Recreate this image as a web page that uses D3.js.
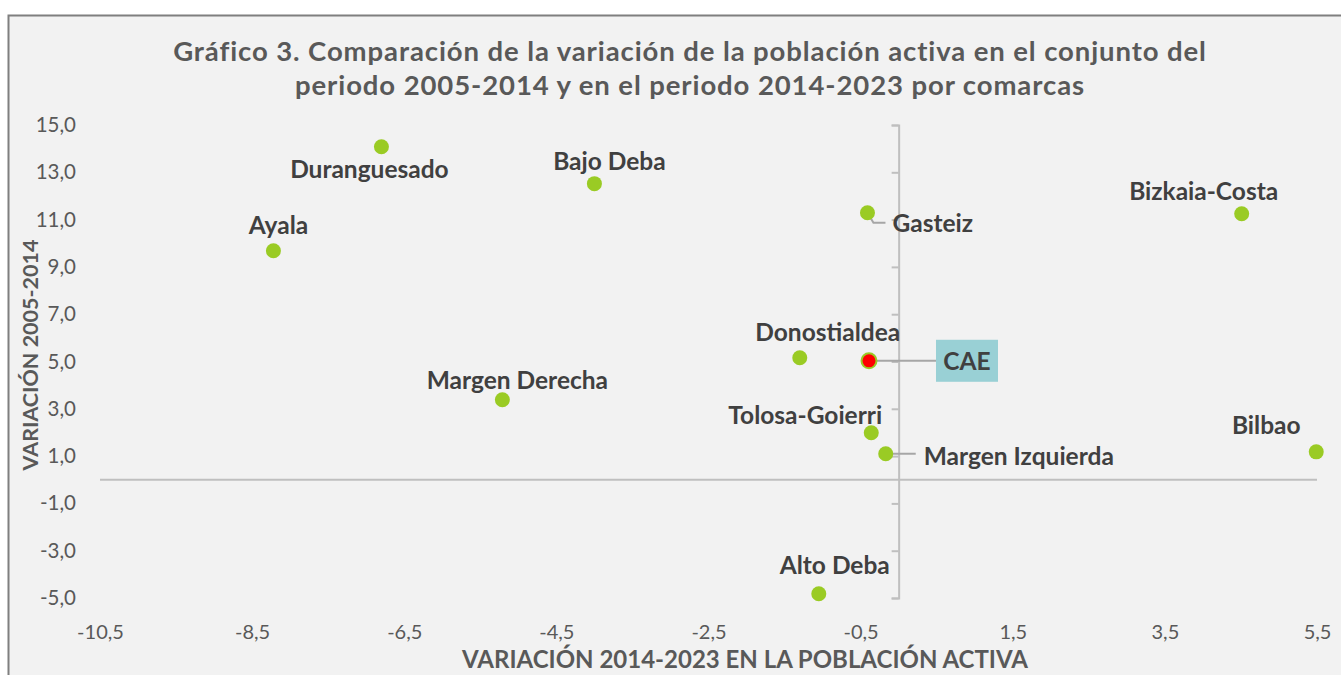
<!DOCTYPE html>
<html>
<head>
<meta charset="utf-8">
<script src="https://cdn.jsdelivr.net/npm/d3@7"></script>
<style>
  body { margin: 0; background: #fff; }
  text { font-family: Lato, "Open Sans", sans-serif; }
</style>
</head>
<body>
<svg id="chart"></svg>
<script>
// data
const comarcas = ['Duranguesado', 'Bajo Deba', 'Ayala', 'Gasteiz', 'Bizkaia-Costa', 'Donostialdea',
  'CAE', 'Margen Derecha', 'Tolosa-Goierri', 'Margen Izquierda', 'Bilbao', 'Alto Deba'];
const var1423 = [-6.80, -4.00, -8.22, -0.41, 4.51, -1.30, -0.39, -5.21, -0.36, -0.17, 5.49, -1.05];
const var0514 = [14.08, 12.52, 9.68, 11.29, 11.25, 5.16, 5.03, 3.38, 1.99, 1.10, 1.18, -4.82];
const xTicks = [-10.5, -8.5, -6.5, -4.5, -2.5, -0.5, 1.5, 3.5, 5.5];
const yTicks = [15, 13, 11, 9, 7, 5, 3, 1, -1, -3, -5];
const titleLines = ['Gráfico 3. Comparación de la variación de la población activa en el conjunto del',
  'periodo 2005-2014 y en el periodo 2014-2023 por comarcas'];

// label placement (dx, dy from the dot; anchor; leader line or not)
const labelPos = {
  'Duranguesado': { dx: -12, dy: 22, anchor: 'middle' },
  'Bajo Deba': { dx: 15, dy: -23, anchor: 'middle' },
  'Ayala': { dx: 5, dy: -26, anchor: 'middle' },
  'Gasteiz': { dx: 25, dy: 10, anchor: 'start', leader: true },
  'Bizkaia-Costa': { dx: -38, dy: -23, anchor: 'middle' },
  'Donostialdea': { dx: 28, dy: -26, anchor: 'middle' },
  'CAE': { dx: 98, dy: 0, anchor: 'middle', leader: true, box: true },
  'Margen Derecha': { dx: 15, dy: -20, anchor: 'middle' },
  'Tolosa-Goierri': { dx: -66, dy: -18, anchor: 'middle' },
  'Margen Izquierda': { dx: 38, dy: 2, anchor: 'start', leader: true },
  'Bilbao': { dx: -50, dy: -27, anchor: 'middle' },
  'Alto Deba': { dx: 16, dy: -29, anchor: 'middle' }
};

const W = 1341;
const H = 675;
const svg = d3.select('#chart').attr('width', W).attr('height', H);

// panel
svg.append('rect').attr('x', 8).attr('y', 15).attr('width', W - 8).attr('height', H - 15)
  .attr('fill', '#f2f2f2');
svg.append('path').attr('d', `M8.5,${H}V15.5H${W}`)
  .attr('fill', 'none').attr('stroke', '#7f7f7f').attr('stroke-width', 2);

const x = d3.scaleLinear().domain([-10.5, 5.5]).range([100, 1317]);
const y = d3.scaleLinear().domain([-5, 15]).range([598, 125]);
const fmt = v => d3.format('.1f')(v).replace('.', ',').replace('−', '-');

// title
svg.append('g').selectAll('text')
  .data(titleLines)
  .join('text')
    .attr('x', 690)
    .attr('y', (d, i) => 61 + i * 34)
    .attr('text-anchor', 'middle')
    .attr('font-size', 27.5)
    .attr('letter-spacing', 0.9)
    .attr('font-weight', 'bold')
    .attr('fill', '#595959')
    .text(d => d);

// tick labels on the edges
const yLab = svg.append('g')
    .attr('transform', 'translate(79,0)')
    .call(d3.axisLeft(y).tickValues(yTicks).tickFormat(fmt).tickSize(0));
yLab.select('.domain').remove();
yLab.selectAll('text').attr('font-size', 20.5).attr('fill', '#595959')
  .attr('font-family', 'Lato, "Open Sans", sans-serif');

const xLab = svg.append('g')
    .attr('transform', 'translate(0,622)')
    .call(d3.axisBottom(x).tickValues(xTicks).tickFormat(fmt).tickSize(0));
xLab.select('.domain').remove();
xLab.selectAll('text').attr('font-size', 20).attr('fill', '#595959')
  .attr('font-family', 'Lato, "Open Sans", sans-serif');

// axis lines crossing at zero
svg.append('line')
  .attr('x1', x(-10.5)).attr('x2', x(5.5))
  .attr('y1', y(0)).attr('y2', y(0))
  .attr('stroke', '#bfbfbf').attr('stroke-width', 2);

const yAx = svg.append('g')
    .attr('transform', `translate(${x(0)},0)`)
    .call(d3.axisLeft(y).tickValues(yTicks).tickFormat('').tickSize(7).tickSizeOuter(7));
yAx.selectAll('path, line').attr('stroke', '#bfbfbf').attr('stroke-width', 2);

// axis titles
svg.append('text')
  .attr('x', 745).attr('y', 668)
  .attr('text-anchor', 'middle')
  .attr('font-size', 24).attr('font-weight', 'bold').attr('fill', '#595959')
  .text('VARIACIÓN 2014-2023 EN LA POBLACIÓN ACTIVA');

svg.append('text')
  .attr('transform', 'translate(38,355) rotate(-90)')
  .attr('text-anchor', 'middle')
  .attr('font-size', 21.5).attr('font-weight', 'bold').attr('fill', '#595959')
  .text('VARIACIÓN 2005-2014');

const points = comarcas.map((c, i) => ({ name: c, vx: var1423[i], vy: var0514[i] }));

// leader lines
const leaders = svg.append('g');
points.filter(d => labelPos[d.name].leader).forEach((d) => {
  const px = x(d.vx);
  const py = y(d.vy);
  let path;
  if (d.name === 'Gasteiz') {
    path = `M${px},${py}L${px + 6},${py + 10}H${px + 18}`;
  } else if (d.name === 'CAE') {
    path = `M${px},${py}H${px + 67}`;
  } else {
    path = `M${px},${py}H${px + 30}`;
  }
  leaders.append('path').attr('d', path)
    .attr('fill', 'none').attr('stroke', '#a6a6a6').attr('stroke-width', 2);
});

// dots
svg.append('g').selectAll('circle')
  .data(points)
  .join('circle')
    .attr('cx', d => x(d.vx))
    .attr('cy', d => y(d.vy))
    .attr('r', 7.5)
    .attr('fill', d => (d.name === 'CAE' ? '#ff0000' : '#9acb24'))
    .attr('stroke', d => (d.name === 'CAE' ? '#9acb24' : 'none'))
    .attr('stroke-width', 2);

// CAE box
const cae = points.find(d => d.name === 'CAE');
svg.append('rect')
  .attr('x', x(cae.vx) + 67).attr('y', y(cae.vy) - 21)
  .attr('width', 62).attr('height', 42)
  .attr('fill', '#99d0d5');

// labels
svg.append('g').selectAll('text')
  .data(points)
  .join('text')
    .attr('x', d => x(d.vx) + labelPos[d.name].dx)
    .attr('y', d => y(d.vy) + labelPos[d.name].dy)
    .attr('text-anchor', d => labelPos[d.name].anchor)
    .attr('dominant-baseline', 'central')
    .attr('font-size', 24.5)
    .attr('font-weight', 'bold')
    .attr('fill', '#404040')
    .text(d => d.name);
</script>
</body>
</html>
